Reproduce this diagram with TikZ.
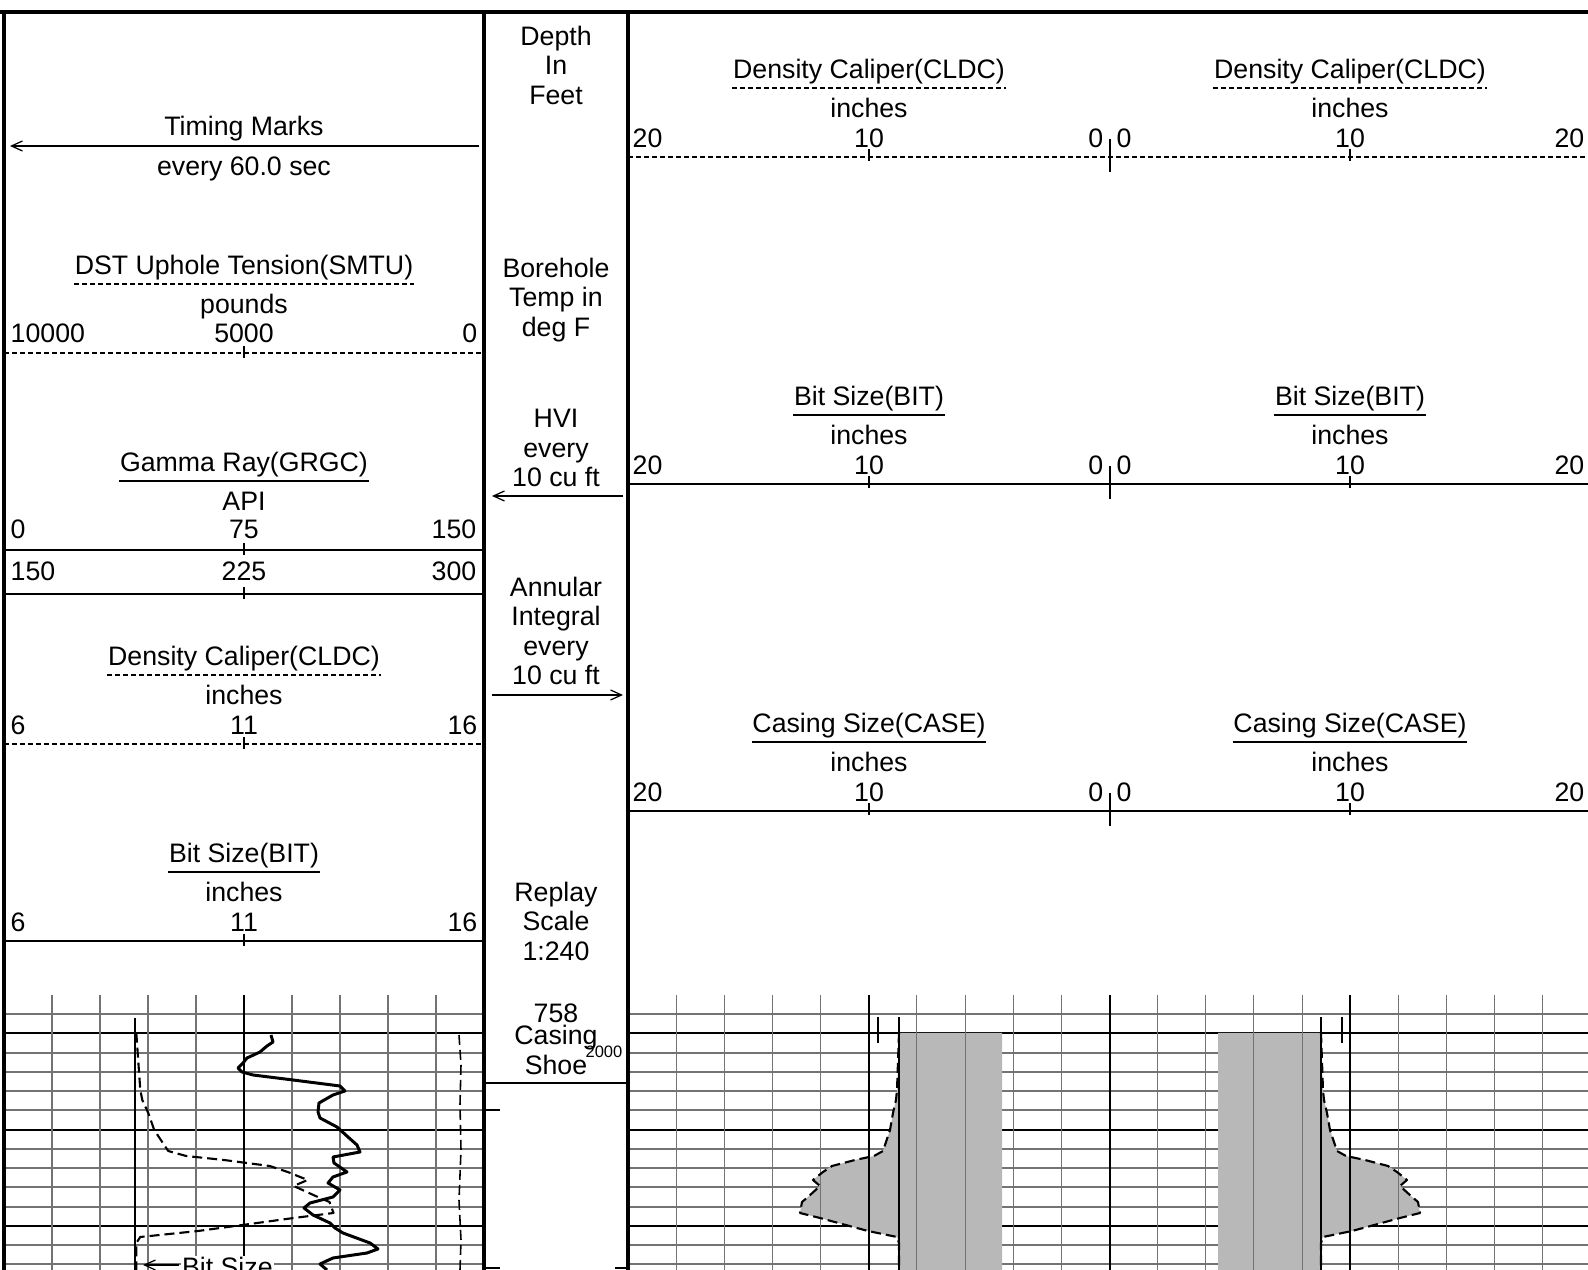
\documentclass[tikz,border=0pt]{standalone}
\usepackage{fontspec}
\setmainfont{Liberation Sans}
\usetikzlibrary{arrows.meta}

\tikzset{
  lbl/.style={inner sep=0pt, anchor=base},
  mid/.style={inner sep=0pt, align=center},
  border/.style={line width=1.1pt},
  scaleline/.style={line width=0.6pt},
  dashline/.style={line width=0.6pt, dash pattern=on 0.5mm off 0.3mm},
  uline/.style={line width=0.45pt},
  duline/.style={line width=0.45pt, dash pattern=on 0.5mm off 0.3mm},
  tick/.style={line width=0.45pt},
  minor/.style={line width=0.3pt, black!55},
  major/.style={line width=0.6pt},
  shade/.style={fill=black!28},
  grcurve/.style={line width=0.85pt, line join=round},
  calcurve/.style={line width=0.6pt, dash pattern=on 1mm off 0.5mm, line join=round},
  bitline/.style={line width=0.6pt},
  marker/.style={line width=0.35pt, ->}
}

% title with underline and unit, placed above a scale line at y=#3
\newcommand{\curvetitle}[6]{%
  \node[lbl] (#1) at (#2,#3-78) {#4};
  \draw[#6] ([yshift=-0.25mm]#1.south west) -- ([yshift=-0.25mm]#1.south east);
  \node[lbl] (#1unit) at (#2,#3-39) {#5};
}
% left, middle and right value of a scale
\newcommand{\scalenums}[8]{%
  \node[lbl, anchor=base west] (#1l) at (#2,#5) {#6};
  \node[lbl] (#1m) at (#3,#5) {#7};
  \node[lbl, anchor=base east] (#1r) at (#4,#5) {#8};
}

% caliper: depth / distance from track centre
\def\caldata{1033/211, 1090/213, 1100/214, 1113/217, 1130/220, 1142/224, 1151/227, 1156/236, 1160/255, 1166/278, 1172/287, 1180/297, 1186/290, 1196/301, 1202/308, 1213/310, 1218/290, 1224/268, 1231/242, 1237/213, 1243/211, 1270/211}
% gamma ray: depth / x
\def\grdata{1035/271, 1042/273, 1046/267, 1052/260, 1058/247, 1063/243, 1068/238, 1072/242, 1075/253, 1080/293, 1086/340, 1091/345, 1095/333, 1103/319, 1112/318, 1118/320, 1127/337, 1137/348, 1145/357, 1152/360, 1157/333, 1163/334, 1172/347, 1177/333, 1183/328, 1190/340, 1197/333, 1203/310, 1208/304, 1215/313, 1223/330, 1228/335, 1233/343, 1243/370, 1249/378, 1253/367, 1258/333, 1264/320, 1270/327}

\begin{document}
\begin{tikzpicture}[x=0.1mm, y=-0.1mm,
  every node/.style={font=\fontsize{7.6pt}{8.4pt}\selectfont},
  >={Straight Barb[length=1.1mm, width=1mm]}]
\useasboundingbox (0,0) rectangle (1588,1270);

% grid, horizontal
\foreach \gy in {1014,1053,1072,1091,1110,1149,1168,1187,1207,1245,1264} {
  \draw[minor] (4,\gy) -- (484,\gy);
  \draw[minor] (628,\gy) -- (1588,\gy);
}
\foreach \gy in {1033,1130,1226} {
  \draw[major] (4,\gy) -- (484,\gy);
  \draw[major] (628,\gy) -- (1588,\gy);
}

% shaded caliper, both halves of the right track
\foreach \side in {1,-1} {
  \begin{scope}[shift={(1110,0)}, xscale=\side]
    \fill[shade] (-108,1033) -- (-211,1033) \foreach \py/\pd in \caldata { -- (-\pd,\py) } -- (-108,1270) -- cycle;
  \end{scope}
}

% grid, vertical
\foreach \k in {1,2,3,4,6,7,8,9}
  \draw[minor] ({4+48*\k},995) -- ({4+48*\k},1270);
\draw[tick] (244,995) -- (244,1270);
\foreach \k in {1,2,3,4,6,7,8,9,11,12,13,14,16,17,18,19}
  \draw[minor] ({628+48.15*\k},995) -- ({628+48.15*\k},1270);
\draw[tick] (869,995) -- (869,1270);
\draw[tick] (1350,995) -- (1350,1270);
\draw[line width=0.85pt] (1110,995) -- (1110,1270);

% curves, right track
\foreach \side in {1,-1} {
  \begin{scope}[shift={(1110,0)}, xscale=\side]
    \draw[calcurve] (-211,1033) \foreach \py/\pd in \caldata { -- (-\pd,\py) };
    \draw[bitline] (-211,1017) -- (-211,1270);
    \draw[bitline] (-232,1017) -- (-232,1043);
  \end{scope}
}

% curves, left track
\draw[bitline] (135,1018) -- (135,1270);
\draw[calcurve] (136,1033) \foreach \py/\pd in \caldata { -- ({1.992*\pd-284},\py) };
\draw[calcurve, line width=0.45pt] (459,1035) -- (461,1065) -- (460,1105) -- (461,1150) -- (459,1200) -- (461,1240) -- (460,1270);
\draw[grcurve] (271,1035) \foreach \py/\px in \grdata { -- (\px,\py) };
\node[lbl, anchor=base west, fill=white, inner sep=0.4pt] (bitlabel) at (180,1277) {Bit Size};
\coordinate (bitstart) at (179,1265);
\coordinate (bittip) at (143,1265);
\draw[marker] (bitstart) -- (bittip);

% borders
\draw[border] (0,12) -- (1588,12);
\draw[border] (4,12) -- (4,1270);
\draw[border] (484,12) -- (484,1270);
\draw[border] (628,12) -- (628,1270);

% left track header
\node[lbl] (timing) at (244,136) {Timing Marks};
\coordinate (timingR) at (479,146);
\coordinate (timingL) at (10,146);
\draw[marker] (timingR) -- (timingL);
\node[lbl] (timingE) at (244,176) {every 60.0 sec};

\curvetitle{dst}{244}{353}{DST Uphole Tension(SMTU)}{pounds}{duline}
\scalenums{dst}{10}{244}{478}{343}{10000}{5000}{0}
\draw[dashline] (4,353) -- (484,353);

\curvetitle{gr}{244}{550}{Gamma Ray(GRGC)}{API}{uline}
\scalenums{grA}{10}{244}{477}{539}{0}{75}{150}
\draw[scaleline] (4,550) -- (484,550);
\scalenums{grB}{10}{244}{477}{581}{150}{225}{300}
\draw[scaleline] (4,594) -- (484,594);

\curvetitle{cldc}{244}{744}{Density Caliper(CLDC)}{inches}{duline}
\scalenums{cldc}{10}{244}{478}{735}{6}{11}{16}
\draw[dashline] (4,744) -- (484,744);

\curvetitle{bit}{244}{941}{Bit Size(BIT)}{inches}{uline}
\scalenums{bit}{10}{244}{478}{932}{6}{11}{16}
\draw[scaleline] (4,941) -- (484,941);

\foreach \L in {353,550,594,744,941}
  \draw[tick] (244,\L-7) -- (244,\L+5);

% depth column
\node[mid] (depth) at (556,65) {Depth\\In\\Feet};
\node[mid] (temp) at (556,300) {Borehole\\Temp in\\deg F};
\node[mid] (hvi) at (556,448) {HVI\\every\\10 cu ft};
\coordinate (hviR) at (623,496);
\coordinate (hviL) at (492,496);
\draw[marker] (hviR) -- (hviL);
\node[mid] (annular) at (556,631) {Annular\\Integral\\every\\10 cu ft};
\coordinate (annL) at (492,695);
\coordinate (annR) at (623,695);
\draw[marker] (annL) -- (annR);
\node[mid] (replay) at (556,921) {Replay\\Scale\\1:240};
\node[lbl] (shoedepth) at (556,1023) {758};
\node[mid] (shoe) at (556,1050) {Casing\\Shoe};
\node[lbl, font=\fontsize{4.7pt}{5pt}\selectfont] (depth2000) at (604,1058) {2000};
\draw[major] (484,1083) -- (628,1083);
\draw[major] (484,1110) -- (500,1110);
\draw[major] (484,1268) -- (500,1268);
\draw[major] (615,1268) -- (628,1268);

% right track header
\curvetitle{cldcL}{869}{157}{Density Caliper(CLDC)}{inches}{duline}
\curvetitle{cldcR}{1350}{157}{Density Caliper(CLDC)}{inches}{duline}
\draw[dashline] (628,157) -- (1588,157);
\curvetitle{bitL}{869}{484}{Bit Size(BIT)}{inches}{uline}
\curvetitle{bitR}{1350}{484}{Bit Size(BIT)}{inches}{uline}
\draw[scaleline] (628,484) -- (1588,484);
\curvetitle{caseL}{869}{811}{Casing Size(CASE)}{inches}{uline}
\curvetitle{caseR}{1350}{811}{Casing Size(CASE)}{inches}{uline}
\draw[scaleline] (628,811) -- (1588,811);
\foreach \L/\n in {157/cldc,484/bit,811/case} {
  \scalenums{\n L}{632}{869}{1104}{\L-9}{20}{10}{0}
  \scalenums{\n R}{1116}{1350}{1585}{\L-9}{0}{10}{20}
  \draw[tick] (869,\L-8) -- (869,\L+4);
  \draw[tick] (1350,\L-8) -- (1350,\L+4);
  \draw[tick] (1110,\L-18) -- (1110,\L+15);
}
\end{tikzpicture}
\end{document}
